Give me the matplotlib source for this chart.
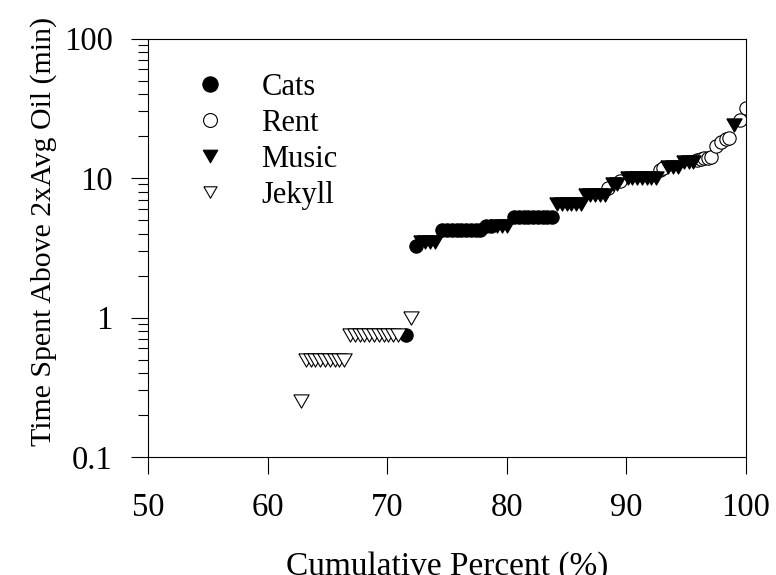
import numpy as np
import matplotlib
matplotlib.use("Agg")
import matplotlib.pyplot as plt
from matplotlib.ticker import FixedLocator, LogLocator, NullFormatter

plt.rcParams['font.family'] = ['Liberation Serif', 'DejaVu Serif']

# cumulative percent (x) and minutes above 2x average oil (y), per show
cats_x = [71.6, 72.4, 74.6, 75.0, 75.4, 75.8, 76.2, 76.6, 77.0, 77.4, 77.8,
          78.3, 78.7, 80.6, 81.0, 81.4, 81.8, 82.2, 82.6, 83.0, 83.4, 83.8]
cats_y = [0.75, 3.25, 4.25, 4.25, 4.25, 4.25, 4.25, 4.25, 4.25, 4.25, 4.25,
          4.5, 4.5, 5.25, 5.25, 5.25, 5.25, 5.25, 5.25, 5.25, 5.25, 5.25]

rent_x = [88.5, 89.5, 92.8, 93.1, 95.9, 96.2, 96.5, 96.8, 97.1,
          97.5, 97.9, 98.3, 98.6, 99.5, 100.0]
rent_y = [8.5, 9.5, 11.5, 11.75, 13.5, 13.75, 14.0, 14.0, 14.25,
          17.0, 18.0, 19.0, 19.5, 26.0, 32.0]

music_x = [72.8, 73.2, 73.6, 74.0,
           79.2, 79.6, 80.0,
           84.2, 84.6, 85.0, 85.4, 85.8, 86.2,
           86.6, 87.0, 87.4, 87.8, 88.2,
           88.9, 89.2,
           90.1, 90.5, 90.9, 91.3, 91.7, 92.1, 92.5,
           93.5, 93.9, 94.3,
           94.8, 95.2, 95.6,
           99.0]
music_y = [3.5, 3.5, 3.5, 3.5,
           4.5, 4.5, 4.5,
           6.5, 6.5, 6.5, 6.5, 6.5, 6.5,
           7.5, 7.5, 7.5, 7.5, 7.5,
           9.0, 9.0,
           10.0, 10.0, 10.0, 10.0, 10.0, 10.0, 10.0,
           12.0, 12.0, 12.0,
           13.0, 13.0, 13.0,
           24.0]

jekyll_x = [62.8,
            63.2, 63.6, 64.0, 64.4, 64.8, 65.2, 65.6, 66.0, 66.4,
            66.9, 67.3, 67.7, 68.1, 68.5, 68.9, 69.3, 69.7, 70.1, 70.5, 70.9,
            72.0]
jekyll_y = [0.25,
            0.5, 0.5, 0.5, 0.5, 0.5, 0.5, 0.5, 0.5, 0.5,
            0.75, 0.75, 0.75, 0.75, 0.75, 0.75, 0.75, 0.75, 0.75, 0.75, 0.75,
            1.0]

x_ticks = [50, 60, 70, 80, 90, 100]
y_ticks = [0.1, 1, 10, 100]
y_tick_labels = ['0.1', '1', '10', '100']

fig = plt.figure(figsize=(7.76, 5.75), dpi=100)
ax = fig.add_axes([0.1907, 0.2052, 0.7706, 0.7278])

# equilateral down-pointing triangle (SigmaPlot style)
tri = [(-1, 0.866), (1, 0.866), (0, -0.866), (-1, 0.866)]
ms_c = 9.6
ms_t = 11.0
mew = 0.8
ax.plot(cats_x, cats_y, 'o', ms=ms_c, mfc='black', mec='black', mew=mew, label='Cats')
ax.plot(rent_x, rent_y, 'o', ms=ms_c, mfc='white', mec='black', mew=mew, label='Rent')
ax.plot(music_x, music_y, ls='none', marker=tri, ms=ms_t, mfc='black', mec='black',
        mew=mew, label='Music')
ax.plot(jekyll_x, jekyll_y, ls='none', marker=tri, ms=ms_t, mfc='white', mec='black',
        mew=mew, label='Jekyll')

ax.set_yscale('log')
ax.set_xlim(50, 100)
ax.set_ylim(0.1, 100)
ax.xaxis.set_major_locator(FixedLocator(x_ticks))
ax.set_yticks(y_ticks)
ax.set_yticklabels(y_tick_labels)
ax.yaxis.set_minor_locator(LogLocator(base=10, subs=np.arange(2, 10)))
ax.yaxis.set_minor_formatter(NullFormatter())

ax.tick_params(axis='both', which='major', direction='out', length=12, width=0.8,
               labelsize=23.5, pad=13.5, top=False, right=False)
ax.tick_params(axis='y', which='minor', direction='out', length=7, width=0.8,
               right=False)
for s in ax.spines.values():
    s.set_linewidth(0.8)

ax.set_xlabel('Cumulative Percent (%)', fontsize=24, labelpad=20)
ax.set_ylabel('Time Spent Above 2xAvg Oil (min)', fontsize=21.5, labelpad=5, y=0.54)

leg = ax.legend(loc='upper left', bbox_to_anchor=(0.02, 0.984), frameon=False,
                fontsize=22, handletextpad=0.92, labelspacing=0.23,
                handlelength=1.5)
for h, size in zip(leg.legend_handles, [11.0, 10.0, 10.5, 9.5]):
    h.set_markersize(size)

fig.savefig('out.png', dpi=100)
